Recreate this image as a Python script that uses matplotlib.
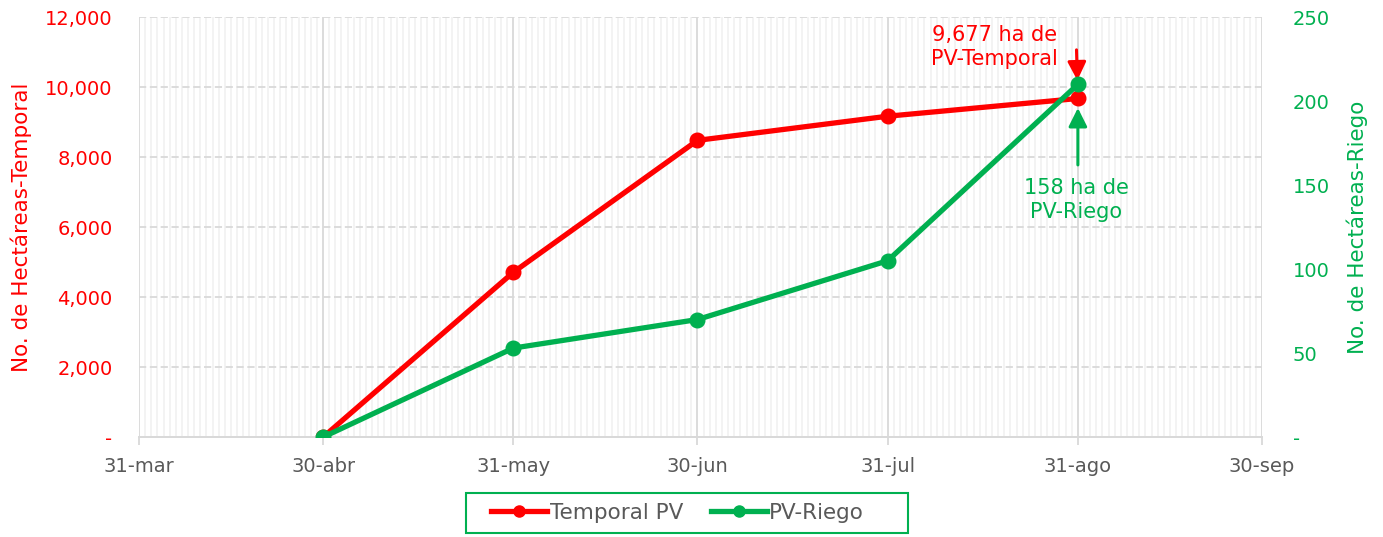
import datetime as dt
import matplotlib
matplotlib.use("Agg")
import matplotlib.pyplot as plt
import matplotlib.dates as mdates
from matplotlib.patches import Rectangle
from matplotlib.ticker import FixedLocator, FuncFormatter, MultipleLocator

RED = "#ff0000"
GREEN = "#00b050"
GREY_TXT = "#595959"
GRID = "#d9d9d9"
MINOR = "#f2f2f2"

fechas = ["2023-04-30", "2023-05-31", "2023-06-30", "2023-07-31", "2023-08-31"]
temporal_pv = [0, 4710, 8480, 9170, 9677]
pv_riego = [0, 53, 70, 105, 210]

tick_fechas = ["2023-03-31", "2023-04-30", "2023-05-31", "2023-06-30",
               "2023-07-31", "2023-08-31", "2023-09-30"]
tick_labels = ["31-mar", "30-abr", "31-may", "30-jun", "31-jul", "31-ago", "30-sep"]

x = [dt.datetime.strptime(f, "%Y-%m-%d") for f in fechas]
xt = [dt.datetime.strptime(f, "%Y-%m-%d") for f in tick_fechas]

plt.rcParams["font.family"] = ["DejaVu Sans"]

fig = plt.figure(figsize=(13.83, 5.37), dpi=100, facecolor="white")
ax1 = fig.add_axes([0.1005, 0.186, 0.812, 0.782])
ax2 = ax1.twinx()

ax1.set_xlim(xt[0], xt[-1])
ax1.set_ylim(0, 12000)
ax2.set_ylim(0, 250)

# grid: daily minor lines, month-end major lines, dashed horizontals
ax1.xaxis.set_major_locator(FixedLocator(mdates.date2num(xt)))
ax1.xaxis.set_minor_locator(mdates.DayLocator())
ax1.set_xticklabels(tick_labels)
ax1.grid(which="minor", axis="x", color=MINOR, linewidth=1.3)
ax1.grid(which="major", axis="x", color=GRID, linewidth=1.3)
ax1.yaxis.set_major_locator(MultipleLocator(2000))
ax1.grid(which="major", axis="y", color=GRID, linewidth=1.3, linestyle=(0, (4, 2)))
ax1.set_axisbelow(True)

fmt = FuncFormatter(lambda v, p: "-" if v == 0 else f"{v:,.0f}")
ax1.yaxis.set_major_formatter(fmt)
ax2.yaxis.set_major_locator(MultipleLocator(50))
ax2.yaxis.set_major_formatter(fmt)

for a in (ax1, ax2):
    for s in ("top", "left", "right"):
        a.spines[s].set_visible(False)
    a.spines["bottom"].set_color(GRID)
    a.spines["bottom"].set_linewidth(1.3)

ax1.tick_params(axis="x", which="major", length=6, color=GRID, width=1.3,
                labelsize=14, labelcolor=GREY_TXT, pad=8)
ax1.tick_params(axis="x", which="minor", length=0)
ax1.tick_params(axis="y", length=0, labelsize=14, labelcolor=RED, pad=19)
ax2.tick_params(axis="y", length=0, labelsize=14, labelcolor=GREEN, pad=22)

ax1.set_ylabel("No. de Hectáreas-Temporal", color=RED, fontsize=15.5, labelpad=9)
ax2.set_ylabel("No. de Hectáreas-Riego", color=GREEN, fontsize=15.5, labelpad=12)

l1, = ax1.plot(x, temporal_pv, color=RED, linewidth=3.8, marker="o",
               markersize=10.5, label="Temporal PV", zorder=3)
l2, = ax2.plot(x, pv_riego, color=GREEN, linewidth=3.8, marker="o",
               markersize=10.5, label="PV-Riego", zorder=3)

# annotations
ax1.annotate("", xy=(x[-1], temporal_pv[-1]), xytext=(-1, 35), textcoords="offset points",
             arrowprops=dict(arrowstyle="-|>,head_width=0.4,head_length=0.8",
                             mutation_scale=14, color=RED, lw=2.2, shrinkA=0, shrinkB=13))
ax1.annotate("9,677 ha de\nPV-Temporal", xy=(x[-1], temporal_pv[-1]),
             xytext=(-60, 37), textcoords="offset points", ha="center", va="center",
             color=RED, fontsize=15, linespacing=1.25)
ax2.annotate("", xy=(x[-1], pv_riego[-1]), xytext=(0, -58), textcoords="offset points",
             arrowprops=dict(arrowstyle="-|>,head_width=0.4,head_length=0.8",
                             mutation_scale=14, color=GREEN, lw=2.2, shrinkA=0, shrinkB=17))
ax2.annotate("158 ha de\nPV-Riego", xy=(x[-1], pv_riego[-1]),
             xytext=(-1, -83), textcoords="offset points", ha="center", va="center",
             color=GREEN, fontsize=15, linespacing=1.25)

leg = fig.legend(handles=[l1, l2], loc="center", bbox_to_anchor=(0.490, 0.045),
                 ncol=2, frameon=False, fontsize=15.5,
                 handlelength=2.6, handletextpad=0.1, columnspacing=1.3,
                 borderpad=0, borderaxespad=0)
for t in leg.get_texts():
    t.set_color(GREY_TXT)
for h in leg.legend_handles:
    h.set_markersize(8)
fig.patches.append(Rectangle((466 / 1383, 4 / 537), 442 / 1383, 40 / 537,
                             transform=fig.transFigure, fill=False,
                             edgecolor=GREEN, linewidth=1.5))

fig.savefig("out.png", dpi=100, facecolor="white")
